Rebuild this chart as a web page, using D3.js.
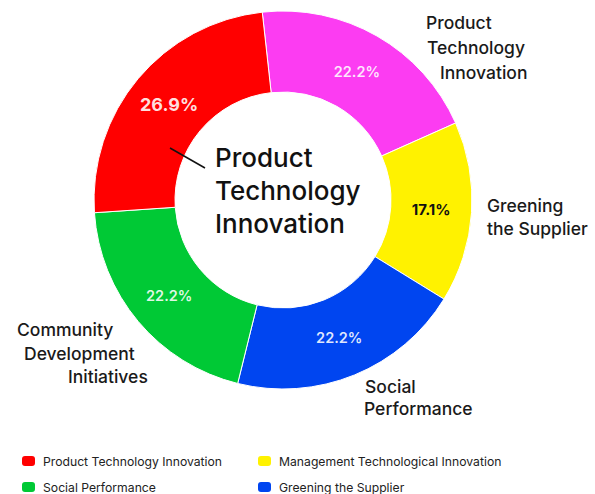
<!DOCTYPE html>
<html>
<head>
<meta charset="utf-8">
<script src="https://cdn.jsdelivr.net/npm/d3@7/dist/d3.min.js"></script>
<style>
  html, body { margin: 0; padding: 0; background: #ffffff; }
  svg { display: block; font-family: Inter, "Open Sans", sans-serif; }
</style>
</head>
<body>
<svg id="chart" width="595" height="494"></svg>
<script>
// Slice data, clockwise from the top
const sliceNames = [
  "Product Technology Innovation",
  "Greening the Supplier",
  "Social Performance",
  "Community Development Initiatives",
  "Product Technology Innovation"
];
const sliceValues = [22.2, 17.1, 22.2, 22.2, 26.9];
const sliceColors = ["#fc3cf2", "#fff200", "#0045f0", "#00c935", "#ff0000"];
const valueTextColors = ["#ffffff", "#111111", "#ffffff", "#ffffff", "#ffffff"];

// Legend entries
const legendLabels = [
  "Product Technology Innovation",
  "Management Technological Innovation",
  "Social Performance",
  "Greening the Supplier"
];
const legendColors = ["#ff0000", "#fff200", "#00c935", "#0045f0"];

// Centre caption
const centerLines = ["Product", "Technology", "Innovation"];

// Outer annotation text (lines per label) and their placement
const outerLabels = [
  { lines: ["Product", "Technology", "Innovation"], x: [426, 427, 440], y: 29, dy: 25 },
  { lines: ["Greening", "the Supplier"], x: [487, 487], y: 212, dy: 23 },
  { lines: ["Social", "Performance"], x: [365, 364], y: 393, dy: 22 },
  { lines: ["Community", "Development", "Initiatives"], x: [17, 24, 68], y: 336, dy: 23.5 }
];

const svg = d3.select("#chart");
const cx = 283, cy = 200;
const outerR = 189, innerR = 108;

const rot = -0.11;
const pie = d3.pie().sort(null).value(d => d).startAngle(rot).endAngle(rot + 2 * Math.PI);
const arc = d3.arc().innerRadius(innerR).outerRadius(outerR);
const arcs = pie(sliceValues);

const g = svg.append("g").attr("transform", `translate(${cx},${cy})`);

g.selectAll("path.slice")
  .data(arcs)
  .join("path")
  .attr("class", "slice")
  .attr("d", arc)
  .attr("fill", (d, i) => sliceColors[i])
  .attr("stroke", "#ffffff")
  .attr("stroke-width", 1);

const fmt = d3.format(".1f");
g.selectAll("text.value")
  .data(arcs)
  .join("text")
  .attr("class", "value")
  .attr("transform", d => `translate(${arc.centroid(d)})`)
  .attr("text-anchor", "middle")
  .attr("dominant-baseline", "central")
  .attr("fill", (d, i) => valueTextColors[i])
  .attr("fill-opacity", (d, i) => i === 1 ? 1 : 0.88)
  .attr("font-size", (d, i) => i === 4 ? 18 : (i === 1 ? 15 : 14.5))
  .attr("font-weight", (d, i) => i === 4 || i === 1 ? 700 : 600)
  .text(d => fmt(d.data) + "%");

// Leader from the largest slice to the centre caption
svg.append("line")
  .attr("x1", 170).attr("y1", 148)
  .attr("x2", 205).attr("y2", 168)
  .attr("stroke", "#111111")
  .attr("stroke-width", 1.6);

svg.append("g")
  .selectAll("text")
  .data(centerLines)
  .join("text")
  .attr("x", 215)
  .attr("y", (d, i) => 167 + i * 33)
  .attr("font-size", 26)
  .attr("font-weight", 500)
  .attr("fill", "#111111")
  .text(d => d);

// Outer annotations
outerLabels.forEach(lbl => {
  svg.append("g")
    .selectAll("text")
    .data(lbl.lines)
    .join("text")
    .attr("x", (d, i) => lbl.x[i])
    .attr("y", (d, i) => lbl.y + i * lbl.dy)
    .attr("font-size", 17.5)
    .attr("font-weight", 500)
    .attr("fill", "#1a1a1a")
    .text(d => d);
});

// Legend (two columns, two rows)
const legend = svg.append("g");
const cols = [22, 258], rows = [461, 487];
legendLabels.forEach((label, i) => {
  const x = cols[i % 2], y = rows[Math.floor(i / 2)];
  legend.append("rect")
    .attr("x", x).attr("y", y - 5)
    .attr("width", 13).attr("height", 10)
    .attr("rx", 3)
    .attr("fill", legendColors[i]);
  legend.append("text")
    .attr("x", x + 21).attr("y", y)
    .attr("dominant-baseline", "central")
    .attr("font-size", 12.2)
    .attr("fill", "#222222")
    .text(label);
});
</script>
</body>
</html>
